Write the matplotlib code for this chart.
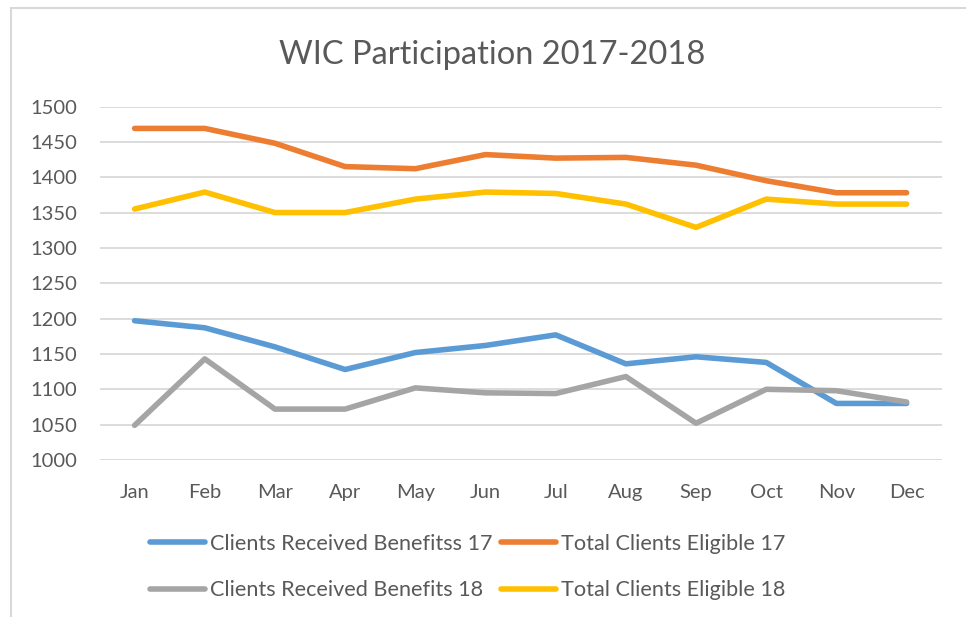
import matplotlib
matplotlib.use("Agg")
import matplotlib.pyplot as plt
from matplotlib.patches import Rectangle

months = ["Jan", "Feb", "Mar", "Apr", "May", "Jun", "Jul", "Aug", "Sep", "Oct", "Nov", "Dec"]
received_17 = [1197, 1187, 1160, 1128, 1152, 1162, 1177, 1136, 1146, 1138, 1080, 1080]
eligible_17 = [1469, 1469, 1448, 1415, 1412, 1432, 1427, 1428, 1417, 1395, 1378, 1378]
received_18 = [1049, 1143, 1072, 1072, 1102, 1095, 1094, 1118, 1052, 1100, 1098, 1082]
eligible_18 = [1355, 1379, 1350, 1350, 1369, 1379, 1377, 1362, 1329, 1369, 1362, 1362]
y_ticks = [1000, 1050, 1100, 1150, 1200, 1250, 1300, 1350, 1400, 1450, 1500]

plt.rcParams['font.family'] = ['Lato', 'DejaVu Sans']
TXT = '#595959'

fig = plt.figure(figsize=(9.66, 6.17), dpi=100)
ax = fig.add_axes([99.5/966, 1-460/617, (941.7-99.5)/966, (460-106.5)/617])

x = list(range(len(months)))
lw = 4.0
l1, = ax.plot(x, received_17, color='#5B9BD5', lw=lw, solid_capstyle='round', solid_joinstyle='round', label='Clients Received Benefitss 17', zorder=3)
l2, = ax.plot(x, eligible_17, color='#ED7D31', lw=lw, solid_capstyle='round', solid_joinstyle='round', label='Total Clients Eligible 17', zorder=3)
l3, = ax.plot(x, received_18, color='#A5A5A5', lw=lw, solid_capstyle='round', solid_joinstyle='round', label='Clients Received Benefits 18', zorder=3)
l4, = ax.plot(x, eligible_18, color='#FFC000', lw=lw, solid_capstyle='round', solid_joinstyle='round', label='Total Clients Eligible 18', zorder=3)

ax.set_xlim(-0.5, len(months) - 0.5)
ax.set_ylim(1000, 1500)
ax.set_yticks(y_ticks)
ax.set_yticklabels([str(v) for v in y_ticks])
ax.set_xticks(x)
ax.set_xticklabels(months)
ax.tick_params(axis='both', length=0, labelsize=14.5, labelcolor=TXT)
ax.tick_params(axis='x', pad=17)
ax.tick_params(axis='y', pad=16)
ax.grid(axis='y', color='#D9D9D9', lw=1.3)
ax.set_axisbelow(True)
for s in ax.spines.values():
    s.set_visible(False)

fig.text(492/966, 1-55/617, 'WIC Participation 2017-2018', ha='center', va='center', fontsize=23.5, color=TXT)

leg = fig.legend(handles=[l1, l3, l2, l4], ncol=2, loc='center left',
                 bbox_to_anchor=(150/966, 1-567/617), frameon=False,
                 fontsize=15.6, labelcolor=TXT, handlelength=2.55, handletextpad=0.23,
                 columnspacing=0.37, labelspacing=1.22, borderpad=0, borderaxespad=0)

fig.patches.append(Rectangle((11/966, -0.1), 1.2, (617-8)/617 + 0.1, transform=fig.transFigure,
                             fill=False, edgecolor='#D9D9D9', lw=1.5, clip_on=False))

fig.savefig('out.png', dpi=100)
